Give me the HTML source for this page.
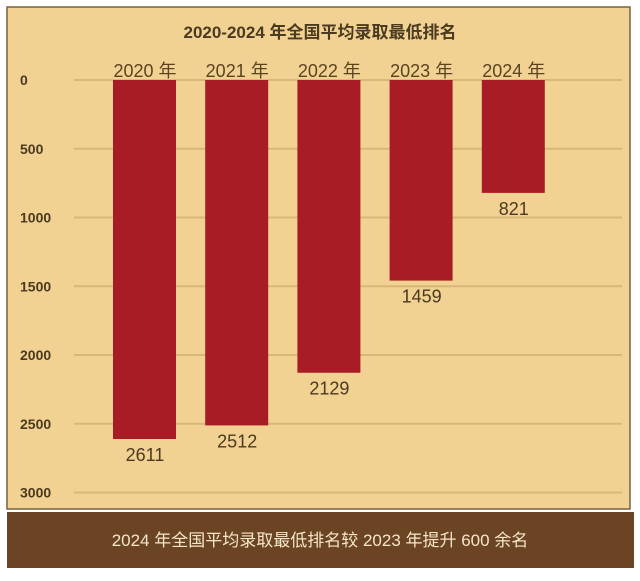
<!DOCTYPE html>
<html><head><meta charset="utf-8"><style>
html,body{margin:0;padding:0;background:#fff;}
body{width:640px;height:576px;overflow:hidden;position:relative;font-family:"Liberation Sans","Noto Sans CJK SC",sans-serif;}
</style></head><body>
<svg width="640" height="576" xmlns="http://www.w3.org/2000/svg">
<rect x="7" y="7" width="623" height="502" fill="#f2d293" stroke="#7a6040" stroke-width="1.5"/>
<text x="320" y="38" text-anchor="middle" font-size="17" font-weight="bold" fill="#4a3a1f" font-family="Liberation Sans,Noto Sans CJK SC,sans-serif">2020-2024 年全国平均录取最低排名</text>
<g id="grid"></g><g id="bars"></g>
<rect x="7" y="512" width="627" height="56" fill="#6b4424"/>
<text x="320" y="546" text-anchor="middle" font-size="17" fill="#f5e6c8" font-family="Liberation Sans,Noto Sans CJK SC,sans-serif">2024 年全国平均录取最低排名较 2023 年提升 600 余名</text>
</svg>
<script>
const categories=["2020 年","2021 年","2022 年","2023 年","2024 年"];
const values=[2611,2512,2129,1459,821];
const ticks=[0,500,1000,1500,2000,2500,3000];
const NS="http://www.w3.org/2000/svg";
const y=v=>80+v*0.1375;
const x=i=>145+i*92.2;
const grid=document.getElementById('grid'),bars=document.getElementById('bars');
function mk(t,a,p){const e=document.createElementNS(NS,t);for(const k in a)e.setAttribute(k,a[k]);p.appendChild(e);return e;}
ticks.forEach(t=>{
 const l=mk('line',{x1:74,x2:622,y1:y(t),y2:y(t),stroke:'#d8b878','stroke-width':2},grid);
 
 
 const tx=mk('text',{x:20,y:y(t)+5,'font-size':14,'font-weight':'bold',fill:'#4a3a1f'},grid);
 tx.textContent=t;
 
 
});
values.forEach((v,i)=>{
 const r=mk('rect',{x:x(i)-32,y:y(0),width:63,height:y(v)-y(0),fill:'#a81c26'},bars);
 
 
 const c=mk('text',{x:x(i),y:y(0)-3,'text-anchor':'middle','font-size':18,fill:'#5a4420','font-family':'Liberation Sans,Noto Sans CJK SC,sans-serif'},bars);
 c.textContent=categories[i];
 
 
 const vl=mk('text',{x:x(i),y:y(v)+22,'text-anchor':'middle','font-size':18,fill:'#4a3a1f'},bars);
 vl.textContent=v;
 
 
});
</script>
</body></html>
